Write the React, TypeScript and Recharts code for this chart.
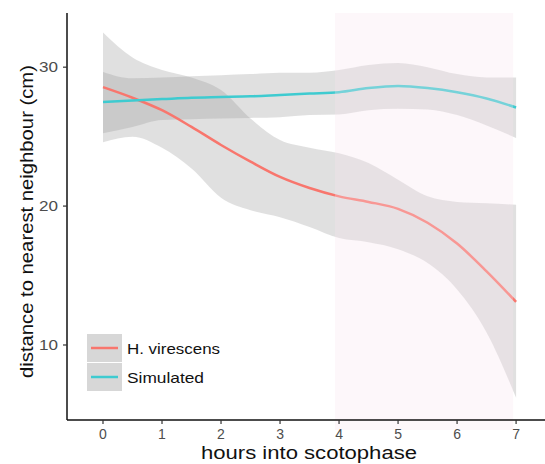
import React from 'react';
import {
  ComposedChart,
  Area,
  Line,
  XAxis,
  YAxis,
  ReferenceArea,
  Legend,
  Label,
} from 'recharts';

const hours = [0, 0.5, 1, 1.5, 2, 2.5, 3, 3.5, 4, 4.5, 5, 5.5, 6, 6.5, 7];

const virescensFit = [28.56, 27.8, 26.9, 25.7, 24.4, 23.2, 22.1, 21.3, 20.7, 20.3, 19.8, 18.8, 17.3, 15.3, 13.1];
const virescensLower = [24.6, 25.0, 24.2, 22.7, 20.6, 19.7, 19.2, 18.5, 17.7, 17.4, 16.9, 15.9, 14.0, 10.9, 6.2];
const virescensUpper = [32.5, 30.7, 29.8, 29.26, 28.35, 26.3, 24.75, 24.2, 23.8, 23.1, 21.9, 20.7, 20.3, 20.2, 20.1];

const simulatedFit = [27.5, 27.6, 27.7, 27.8, 27.85, 27.9, 28.0, 28.1, 28.2, 28.5, 28.65, 28.5, 28.2, 27.75, 27.1];
const simulatedLower = [25.25, 25.7, 26.2, 26.25, 26.3, 26.35, 26.4, 26.55, 26.6, 26.9, 27.0, 26.95, 26.55, 25.8, 24.9];
const simulatedUpper = [29.66, 29.2, 29.26, 29.35, 29.42, 29.5, 29.6, 29.6, 29.8, 30.15, 30.3, 30.0, 29.5, 29.26, 29.26];

const seriesNames = ['H. virescens', 'Simulated'];
const seriesColors = ['#f8766d', '#3ecbd0'];

const xTicks = [0, 1, 2, 3, 4, 5, 6, 7];
const yTicks = [10, 20, 30];

// scotophase shading (hours)
const darkStart = 3.93;
const darkEnd = 6.95;

const data = hours.map((h, i) => ({
  hour: h,
  vFit: virescensFit[i],
  vBand: [virescensLower[i], virescensUpper[i]],
  sFit: simulatedFit[i],
  sBand: [simulatedLower[i], simulatedUpper[i]],
}));

const FONT = '"Liberation Sans", Arial, sans-serif';

const XTick = (props: any) => {
  const { x, y, payload } = props;
  return (
    <text x={x} y={y} dy="0.71em" textAnchor="middle" fontSize={14} fontFamily={FONT} fill="#4d4d4d">
      {payload.value}
    </text>
  );
};

const YTick = (props: any) => {
  const { x, y, payload } = props;
  return (
    <text
      x={x}
      y={y}
      dy="0.355em"
      textAnchor="end"
      fontSize={14.5}
      fontFamily={FONT}
      fill="#4d4d4d"
      textLength={19}
      lengthAdjust="spacingAndGlyphs"
    >
      {payload.value}
    </text>
  );
};

const LegendBox = () => (
  <svg width={150} height={60} style={{ display: 'block', overflow: 'visible' }}>
    {seriesNames.map((name, i) => (
      <g key={name}>
        <rect x={0} y={i * 29} width={35} height={28} fill="#d7d7d7" />
        <line x1={4} x2={31} y1={i * 29 + 14} y2={i * 29 + 14} stroke={seriesColors[i]} strokeWidth={2.5} />
        <text
          x={40}
          y={i * 29 + 19.5}
          fontSize={15}
          fontFamily={FONT}
          fill="#111"
          textLength={i === 0 ? 93 : 77}
          lengthAdjust="spacingAndGlyphs"
        >
          {name}
        </text>
      </g>
    ))}
  </svg>
);

export default function App() {
  return (
    <div style={{ position: 'absolute', left: 0, top: 0, background: '#fff' }}>
      <ComposedChart width={545} height={464} data={data} margin={{ top: 13, right: 0, bottom: 0, left: 0 }}>
        <XAxis
          type="number"
          dataKey="hour"
          domain={[-0.61, 7.49]}
          ticks={xTicks}
          allowDataOverflow
          height={44}
          tickSize={4}
          tickMargin={5}
          tick={<XTick />}
          axisLine={{ stroke: '#111', strokeWidth: 1.5 }}
          tickLine={{ stroke: '#333', strokeWidth: 1.2 }}
        >
          <Label
            content={() => (
              <text
                x={309}
                y={458.5}
                textAnchor="middle"
                fontSize={17.5}
                fontFamily={FONT}
                fill="#111"
                textLength={216}
                lengthAdjust="spacingAndGlyphs"
              >
                hours into scotophase
              </text>
            )}
          />
        </XAxis>
        <YAxis
          type="number"
          domain={[4.6, 33.9]}
          ticks={yTicks}
          allowDataOverflow
          width={67}
          tickSize={4}
          tickMargin={5}
          tick={<YTick />}
          axisLine={{ stroke: '#111', strokeWidth: 1.5 }}
          tickLine={{ stroke: '#333', strokeWidth: 1.2 }}
        >
          <Label
            content={() => (
              <text
                x={33}
                y={221.5}
                transform="rotate(-90, 33, 221.5)"
                textAnchor="middle"
                fontSize={18}
                fontFamily={FONT}
                fill="#111"
                textLength={313}
                lengthAdjust="spacingAndGlyphs"
              >
                distance to nearest neighbour (cm)
              </text>
            )}
          />
        </YAxis>
        <Area
          type="monotone"
          dataKey="vBand"
          stroke="none"
          fill="#999999"
          fillOpacity={0.3}
          isAnimationActive={false}
          legendType="none"
        />
        <Area
          type="monotone"
          dataKey="sBand"
          stroke="none"
          fill="#999999"
          fillOpacity={0.3}
          isAnimationActive={false}
          legendType="none"
        />
        <Line
          type="monotone"
          dataKey="vFit"
          name={seriesNames[0]}
          stroke={seriesColors[0]}
          strokeWidth={2.5}
          dot={false}
          isAnimationActive={false}
        />
        <Line
          type="monotone"
          dataKey="sFit"
          name={seriesNames[1]}
          stroke={seriesColors[1]}
          strokeWidth={2.5}
          dot={false}
          isAnimationActive={false}
        />
        <ReferenceArea
          x1={darkStart}
          x2={darkEnd}
          y1={3.88}
          y2={33.9}
          ifOverflow="visible"
          fill="#f7e3ef"
          fillOpacity={0.3}
          stroke="none"
          zIndex={450}
        />
        <Legend
          layout="vertical"
          align="center"
          verticalAlign="middle"
          content={() => <LegendBox />}
          wrapperStyle={{ left: 87, top: 334, width: 150 }}
        />
      </ComposedChart>
    </div>
  );
}
